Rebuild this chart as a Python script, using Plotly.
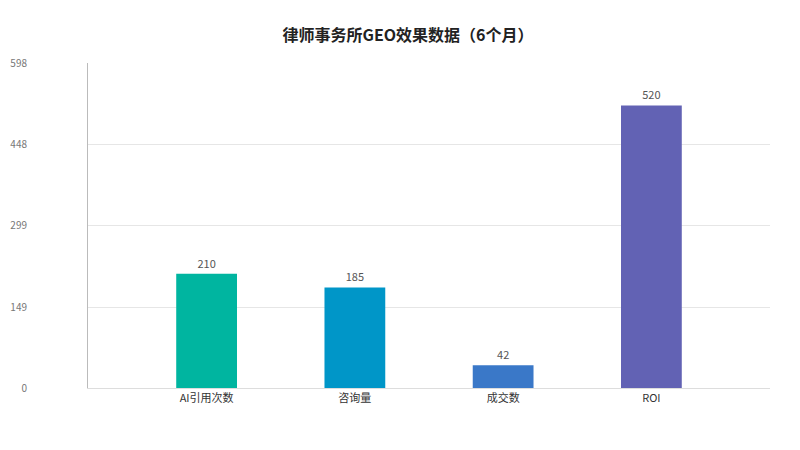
import plotly.graph_objects as go

categories = ["AI引用次数", "咨询量", "成交数", "ROI"]
values = [210, 185, 42, 520]
colors = ["#00b5a0", "#0096c8", "#3a78c8", "#6262b4"]
tick_vals = [0, 149, 299, 448, 598]

fig = go.Figure(go.Bar(
    x=categories,
    y=values,
    marker_color=colors,
    width=0.41,
    text=values,
    textposition="outside",
    textfont=dict(size=11, color="#555555"),
    cliponaxis=False,
))

fig.update_layout(
    width=800, height=450,
    template="none",
    paper_bgcolor="white",
    plot_bgcolor="white",
    margin=dict(l=80, r=38, t=55, b=70, autoexpand=False),
    font=dict(family="Noto Sans CJK SC, sans-serif", size=11, color="#444444"),
    title=dict(text="<b>律师事务所GEO效果数据（6个月）</b>", x=0.5, y=0.94,
               xanchor="center", yanchor="middle", yref="container",
               font=dict(size=16, color="#222222")),
    showlegend=False,
)
fig.update_xaxes(range=[-0.8, 3.8], showgrid=False, showline=True,
                 linecolor="#dddddd", ticks="", automargin=False,
                 tickfont=dict(size=11, color="#333333"))
fig.update_yaxes(range=[0, 598], tickvals=tick_vals, showgrid=True,
                 gridcolor="#e6e6e6", showline=True, linecolor="#bbbbbb",
                 ticks="", zeroline=False, ticklabelstandoff=58, automargin=False,
                 tickfont=dict(size=10, color="#777777"))

fig.write_html("out.html")
